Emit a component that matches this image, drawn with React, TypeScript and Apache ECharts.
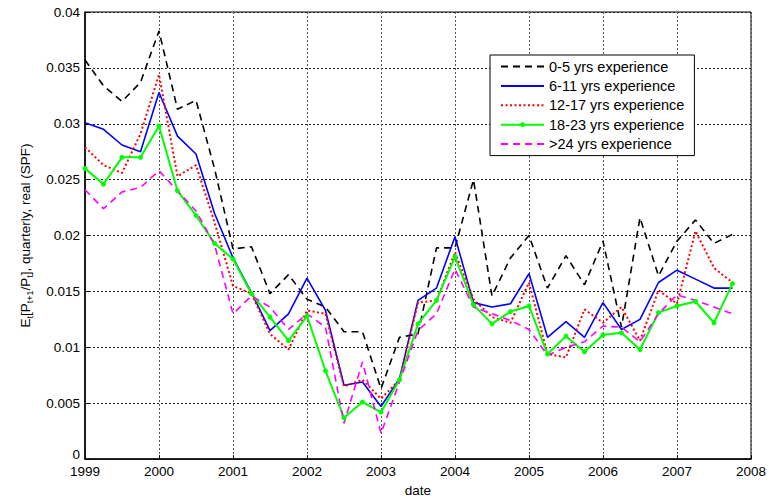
import React, { useEffect, useRef } from "react";
import * as echarts from "echarts";

// quarterly dates 1999Q1 .. 2007Q4 (as decimal years)
const quarters: number[] = Array.from({ length: 36 }, (_, i) => 1999 + i * 0.25);

const xTicks = [1999, 2000, 2001, 2002, 2003, 2004, 2005, 2006, 2007, 2008];

const seriesNames = [
  "0-5 yrs experience",
  "6-11 yrs experience",
  "12-17 yrs experience",
  "18-23 yrs experience",
  ">24 yrs experience",
];

const exp0to5 = [
  0.0357, 0.0334, 0.032, 0.0337, 0.0383, 0.0313, 0.0321, 0.026, 0.0188, 0.019, 0.0148, 0.0165,
  0.0143, 0.0136, 0.0114, 0.0114, 0.0063, 0.0109, 0.0112, 0.0189, 0.0189, 0.025, 0.0146, 0.018,
  0.02, 0.0153, 0.0182, 0.0156, 0.0195, 0.0118, 0.0216, 0.0164, 0.0195, 0.0214, 0.0193, 0.0201,
];
const exp6to11 = [
  0.0301, 0.0295, 0.0281, 0.0275, 0.0328, 0.0289, 0.0273, 0.022, 0.018, 0.0149, 0.0115, 0.013,
  0.0162, 0.0133, 0.0066, 0.0069, 0.0047, 0.0072, 0.0142, 0.0153, 0.0199, 0.014, 0.0136, 0.0139,
  0.0166, 0.0109, 0.0123, 0.0109, 0.014, 0.0116, 0.0125, 0.0158, 0.0169, 0.0161, 0.0153, 0.0153,
];
const exp12to17 = [
  0.0279, 0.0263, 0.0256, 0.0291, 0.0344, 0.0253, 0.0263, 0.0212, 0.0155, 0.0148, 0.0112, 0.0098,
  0.0133, 0.013, 0.0065, 0.0071, 0.0054, 0.0071, 0.014, 0.0142, 0.0185, 0.0143, 0.0127, 0.0122,
  0.0158, 0.0094, 0.0091, 0.0134, 0.0122, 0.0136, 0.0106, 0.0151, 0.0139, 0.0204, 0.0171, 0.0158,
];
const exp18to23 = [
  0.026, 0.0246, 0.027, 0.027, 0.0298, 0.024, 0.0218, 0.0193, 0.0179, 0.0148, 0.0127, 0.0106,
  0.0128, 0.0079, 0.0037, 0.0051, 0.0042, 0.0071, 0.0121, 0.0142, 0.0181, 0.0138, 0.0121, 0.0132,
  0.0137, 0.0094, 0.011, 0.0096, 0.0111, 0.0113, 0.0098, 0.0131, 0.0137, 0.0141, 0.0122, 0.0157,
];
const exp24plus = [
  0.0241, 0.0224, 0.0239, 0.0243, 0.0258, 0.024, 0.0222, 0.0192, 0.013, 0.0146, 0.0136, 0.0116,
  0.013, 0.0118, 0.0032, 0.0087, 0.0023, 0.0069, 0.0115, 0.013, 0.017, 0.0136, 0.013, 0.0124,
  0.0116, 0.0093, 0.01, 0.0105, 0.0119, 0.0118, 0.0105, 0.013, 0.0147, 0.0142, 0.0136, 0.013,
];

const allValues = [exp0to5, exp6to11, exp12to17, exp18to23, exp24plus];
const colors = ["#000000", "#0000ff", "#ff0000", "#00ff00", "#ff00ff"];
const lineTypes: any[] = [[7, 5], "solid", [2, 2.5], "solid", [7, 5]];
const lineWidths = [1.6, 1.6, 2, 2, 1.6];

const FONT = "'Liberation Sans', Arial, sans-serif";

export default function App() {
  const ref = useRef<HTMLDivElement>(null);
  useEffect(() => {
    if (!ref.current) return;
    const chart = echarts.init(ref.current, undefined, { renderer: "svg" });
    const series = allValues.map((vals, k) => ({
      name: seriesNames[k],
      type: "line",
      data: quarters.map((q, i) => [q, vals[i]]),
      symbol: k === 3 ? "circle" : "none",
      symbolSize: 5,
      showSymbol: k === 3,
      itemStyle: { color: colors[k] },
      lineStyle: { color: colors[k], width: lineWidths[k], type: lineTypes[k] },
      emphasis: { disabled: true },
    }));
    chart.setOption({
      animation: false,
      backgroundColor: "#ffffff",
      textStyle: { fontFamily: FONT },
      grid: {
        left: 85,
        right: 15,
        top: 12,
        bottom: 39,
        show: true,
        borderColor: "#000",
        borderWidth: 1,
        backgroundColor: "transparent",
      },
      legend: {
        orient: "vertical",
        left: 490,
        top: 55,
        backgroundColor: "#ffffff",
        borderColor: "#000",
        borderWidth: 1,
        borderRadius: 0,
        padding: [4, 10, 4, 10],
        itemWidth: 43,
        itemHeight: 6,
        itemGap: 4.4,
        textStyle: { fontFamily: FONT, fontSize: 14.5, color: "#000", lineHeight: 14 },
        data: seriesNames.map((n, k) =>
          k === 3
            ? { name: n }
            : { name: n, itemStyle: { opacity: 0, borderWidth: 0 } }
        ),
      },
      xAxis: {
        type: "value",
        min: 1999,
        max: 2008,
        interval: 1,
        name: "date",
        nameLocation: "middle",
        nameGap: 22,
        nameTextStyle: { fontFamily: FONT, fontSize: 13.5, color: "#000" },
        axisLine: { lineStyle: { color: "#000", width: 1.5 } },
        axisTick: { inside: true, length: 4, lineStyle: { color: "#000" } },
        axisLabel: {
          fontFamily: FONT,
          fontSize: 13.5,
          color: "#000",
          margin: 5,
          formatter: (v: number) => (xTicks.includes(v) ? String(v) : ""),
        },
        splitLine: { show: true, lineStyle: { color: "#555", type: [2, 2], width: 1 } },
      },
      yAxis: {
        type: "value",
        min: 0,
        max: 0.04,
        interval: 0.005,
        name: "E{s|t}[P{s|t+1}/P{s|t}], quarterly, real (SPF)",
        nameLocation: "middle",
        nameGap: 51,
        nameTextStyle: {
          fontFamily: FONT,
          fontSize: 13.5,
          color: "#000",
          lineHeight: 18,
          rich: {
            s: { fontFamily: FONT, fontSize: 9, color: "#000", verticalAlign: "bottom" },
          },
        },
        axisLine: { lineStyle: { color: "#000", width: 1.5 } },
        axisTick: { inside: true, length: 4, lineStyle: { color: "#000" } },
        axisLabel: {
          fontFamily: FONT,
          fontSize: 13.5,
          color: "#000",
          margin: 5,
          formatter: (v: number) => (v === 0 ? "{z|0}" : String(Number(v.toFixed(3)))),
          rich: {
            z: { fontFamily: FONT, fontSize: 13.5, color: "#000", padding: [0, 0, 10, 0] },
          },
        },
        splitLine: { show: true, lineStyle: { color: "#222", type: [2, 2], width: 1 } },
      },
      series,
    });
    return () => chart.dispose();
  }, []);
  return (
    <div
      ref={ref}
      style={{ position: "absolute", left: 0, top: 0, width: 769, height: 502, background: "#fff" }}
    />
  );
}
